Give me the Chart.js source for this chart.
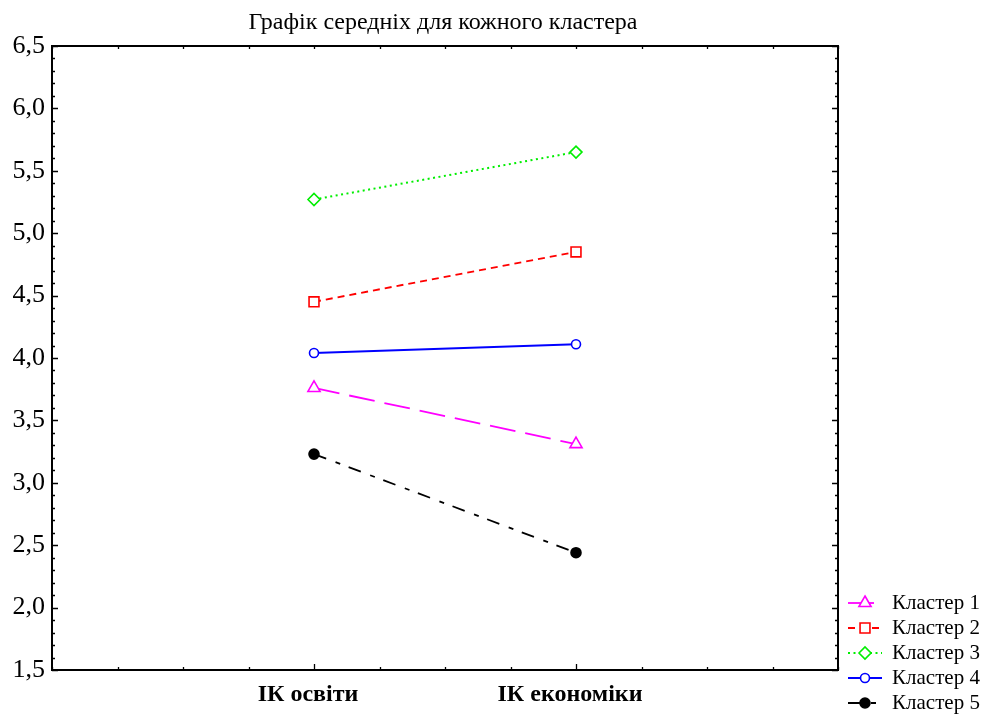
<!DOCTYPE html>
<html>
<head>
<meta charset="utf-8">
<script src="https://cdn.jsdelivr.net/npm/chart.js@4"></script>
<style>
html,body{margin:0;padding:0;background:#fff;}
#wrap{width:986px;height:715px;}
</style>
</head>
<body>
<div id="wrap"><canvas id="c" width="986" height="715"></canvas></div>
<script>
// ---- data ----
const titleText = 'Графік середніх для кожного кластера';
const categories = ['ІК освіти', 'ІК економіки'];
const seriesNames = ['Кластер 1', 'Кластер 2', 'Кластер 3', 'Кластер 4', 'Кластер 5'];
const cluster1 = [3.76, 3.31];
const cluster2 = [4.45, 4.85];
const cluster3 = [5.27, 5.65];
const cluster4 = [4.04, 4.11];
const cluster5 = [3.23, 2.44];
const yMin = 1.5, yMax = 6.5, yStep = 0.5;

const FONT = "'Liberation Serif', 'Times New Roman', serif";

function pts(arr){ return arr.map((v,i)=>({x:i+1, y:v})); }

const styles = [
  {color:'#ff00ff', dash:[26,10], point:'triangle', r:7, fill:'#ffffff', lw:1.8},
  {color:'#ff0000', dash:[7,5], point:'rect', r:7, fill:'#ffffff', lw:1.9},
  {color:'#00ee00', dash:[2,3.5], point:'rectRot', r:6, fill:'#ffffff', lw:2},
  {color:'#0000ff', dash:[], point:'circle', r:4.5, fill:'#ffffff', lw:2},
  {color:'#000000', dash:[13,10,5,9], point:'circle', r:5, fill:'#000000', lw:1.8}
];
const allSeries = [cluster1, cluster2, cluster3, cluster4, cluster5];

const datasets = allSeries.map((s,i)=>({
  label: seriesNames[i],
  data: pts(s),
  borderColor: styles[i].color,
  backgroundColor: styles[i].fill,
  borderWidth: styles[i].lw,
  borderDash: styles[i].dash,
  pointStyle: styles[i].point,
  pointRadius: styles[i].r,
  pointBorderWidth: 1.6,
  pointBorderColor: styles[i].color,
  pointBackgroundColor: styles[i].fill,
  tension: 0,
  fill: false
}));

const framePlugin = {
  id: 'frame',
  afterDraw(chart){
    const ctx = chart.ctx;
    const a = chart.chartArea;
    const xs = chart.scales.x, ys = chart.scales.y;
    ctx.save();
    ctx.strokeStyle = '#000';
    ctx.lineWidth = 1.3;
    ctx.setLineDash([]);
    // y ticks (left and right)
    for (let k = 0; k <= Math.round((yMax - yMin) / 0.1); k++) {
      const v = yMin + k * 0.1;
      const py = Math.round(ys.getPixelForValue(v)) + 0.5;
      const major = (k % 5) === 0;
      const len = major ? 6 : 3;
      ctx.beginPath();
      ctx.moveTo(a.left, py); ctx.lineTo(a.left + len, py);
      ctx.moveTo(a.right, py); ctx.lineTo(a.right - len, py);
      ctx.stroke();
    }
    // x ticks (bottom and top)
    for (let k = 0; k <= 12; k++) {
      const v = k * 0.25;
      const px = Math.round(xs.getPixelForValue(v)) + 0.5;
      const major = (k % 4) === 0 && k > 0 && k < 12;
      ctx.beginPath();
      ctx.moveTo(px, a.bottom); ctx.lineTo(px, a.bottom - (major ? 6 : 3));
      ctx.moveTo(px, a.top); ctx.lineTo(px, a.top + 3);
      ctx.stroke();
    }
    // frame
    ctx.lineWidth = 2;
    ctx.strokeRect(a.left, a.top, a.right - a.left, a.bottom - a.top);

    // title
    ctx.fillStyle = '#000';
    ctx.font = '24px ' + FONT;
    ctx.textAlign = 'center';
    ctx.textBaseline = 'middle';
    ctx.fillText(titleText, 443, 23);

    // legend
    const lx0 = 848, lx1 = 882, tx = 892;
    chart.data.datasets.forEach((ds, i) => {
      const y = 603 + i * 25;
      ctx.save();
      ctx.strokeStyle = ds.borderColor;
      ctx.lineWidth = ds.borderWidth;
      ctx.setLineDash(ds.borderDash);
      ctx.beginPath();
      ctx.moveTo(lx0, y); ctx.lineTo(lx1, y);
      ctx.stroke();
      ctx.setLineDash([]);
      ctx.strokeStyle = ds.pointBorderColor;
      ctx.fillStyle = ds.pointBackgroundColor;
      ctx.lineWidth = ds.pointBorderWidth;
      Chart.helpers.drawPoint(ctx, {pointStyle: ds.pointStyle, radius: ds.pointRadius, rotation: 0, borderWidth: ds.pointBorderWidth}, (lx0 + lx1) / 2, y);
      ctx.restore();
      ctx.fillStyle = '#000';
      ctx.font = '21px ' + FONT;
      ctx.textAlign = 'left';
      ctx.textBaseline = 'middle';
      ctx.fillText(ds.label, tx, y);
    });
    ctx.restore();
  }
};

new Chart(document.getElementById('c'), {
  type: 'line',
  data: { datasets },
  options: {
    responsive: false,
    animation: false,
    devicePixelRatio: 1,
    layout: { padding: { top: 46, right: 148, left: 0, bottom: 0 } },
    plugins: { legend: { display: false }, title: { display: false }, tooltip: { enabled: false } },
    scales: {
      x: {
        type: 'linear',
        min: 0, max: 3,
        grid: { display: false, drawTicks: false },
        border: { display: false },
        ticks: {
          stepSize: 1,
          padding: 10,
          labelOffset: -6,
          color: '#000',
          font: { family: FONT, size: 24, weight: 'bold' },
          callback: (v) => (v >= 1 && v <= categories.length && Number.isInteger(v)) ? categories[v - 1] : ''
        },
        afterFit: (s) => { s.height = 45; }
      },
      y: {
        min: yMin, max: yMax,
        grid: { display: false, drawTicks: false },
        border: { display: false },
        ticks: {
          stepSize: yStep,
          padding: 7,
          color: '#000',
          font: { family: FONT, size: 26 },
          callback: (v) => Number(v).toFixed(1).replace('.', ',')
        },
        afterFit: (s) => { s.width = 52; }
      }
    }
  },
  plugins: [framePlugin]
});
</script>
</body>
</html>
